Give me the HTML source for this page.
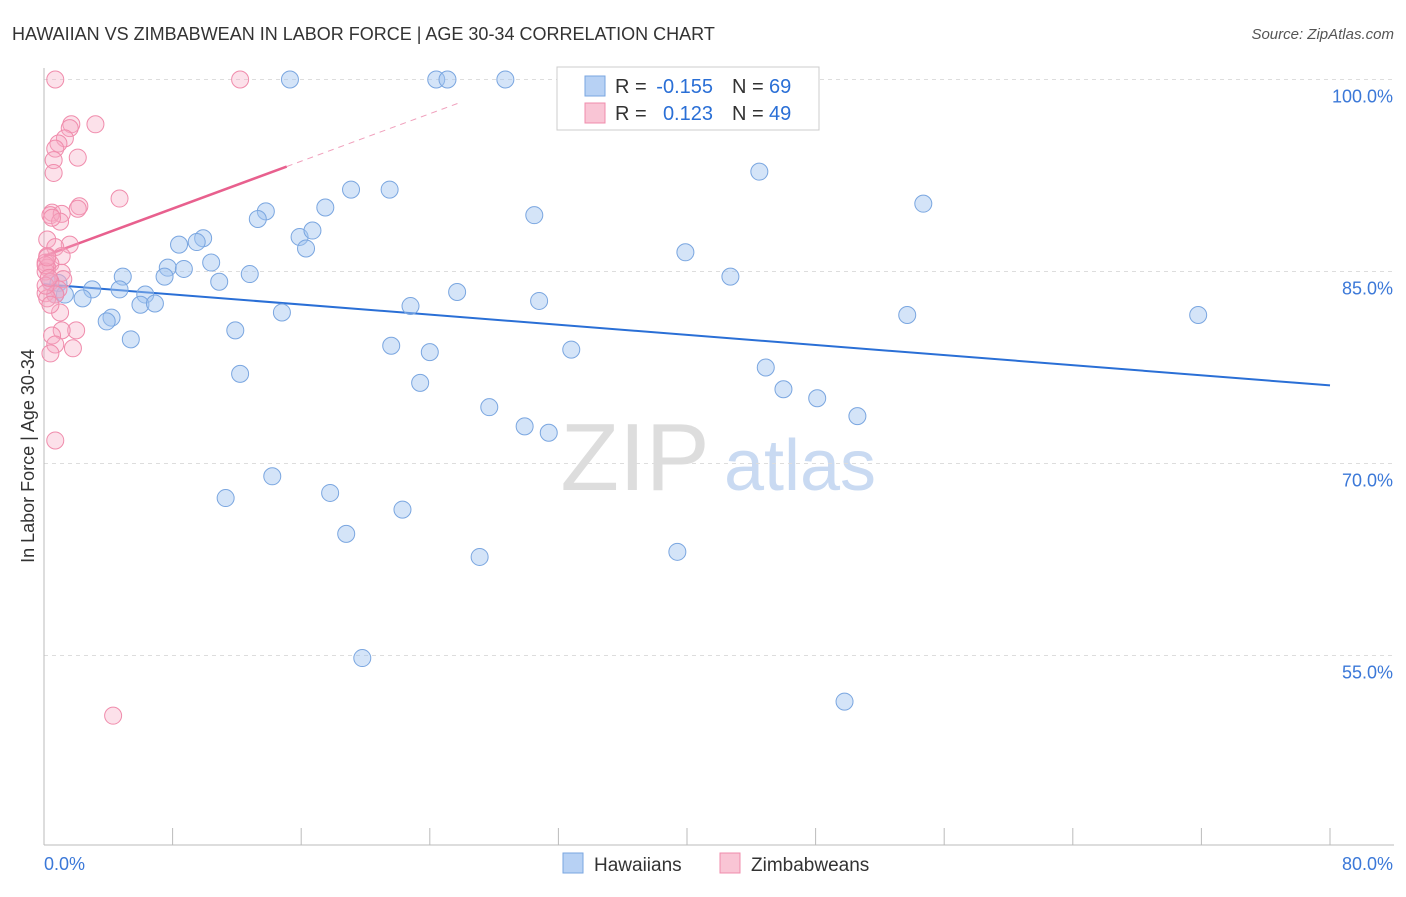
<!DOCTYPE html>
<html><head><meta charset="utf-8"><style>
body{margin:0;background:#fff;font-family:"Liberation Sans",sans-serif;}
svg text{font-family:"Liberation Sans",sans-serif;}
</style></head><body>
<svg id="chart" width="1406" height="892" xmlns="http://www.w3.org/2000/svg">
<text x="12" y="40" font-size="18" fill="#333">HAWAIIAN VS ZIMBABWEAN IN LABOR FORCE | AGE 30-34 CORRELATION CHART</text>
<text x="1394" y="39" font-size="15" fill="#555" text-anchor="end" font-style="italic">Source: ZipAtlas.com</text>
<text x="34" y="456" font-size="18" fill="#333" text-anchor="middle" transform="rotate(-90 34 456)">In Labor Force | Age 30-34</text>
<g><text x="635" y="490" font-size="96" fill="#ddd" text-anchor="middle" font-family="Liberation Serif">ZIP</text><text x="800" y="490" font-size="72" fill="#c9daf2" text-anchor="middle">atlas</text></g>
<g id="grid"></g><g id="axes"></g><g id="lines"></g><g id="pts"></g>
<g>
<rect x="557" y="67" width="262" height="63" fill="#fff" stroke="#ccc"/>
<rect x="585" y="76" width="20" height="20" fill="#b7d1f4" stroke="#7aa6e0"/>
<rect x="585" y="103" width="20" height="20" fill="#f9c5d5" stroke="#f08cac"/>
<text x="615" y="93" font-size="20" fill="#333">R =</text>
<text x="713" y="93" font-size="20" fill="#2a6fd6" text-anchor="end">-0.155</text>
<text x="732" y="93" font-size="20" fill="#333">N =</text>
<text x="769" y="93" font-size="20" fill="#2a6fd6">69</text>
<text x="615" y="120" font-size="20" fill="#333">R =</text>
<text x="713" y="120" font-size="20" fill="#2a6fd6" text-anchor="end">0.123</text>
<text x="732" y="120" font-size="20" fill="#333">N =</text>
<text x="769" y="120" font-size="20" fill="#2a6fd6">49</text>
</g>
<g>
<rect x="563" y="853" width="20" height="20" fill="#b7d1f4" stroke="#7aa6e0"/>
<text x="594" y="871" font-size="19" fill="#333">Hawaiians</text>
<rect x="720" y="853" width="20" height="20" fill="#f9c5d5" stroke="#f08cac"/>
<text x="751" y="871" font-size="19" fill="#333">Zimbabweans</text>
</g>
</svg>
<script>
const yTicks=[100,85,70,55];
const yTickLabels=["100.0%","85.0%","70.0%","55.0%"];
const xTickVals=[0,8,16,24,32,40,48,56,64,72,80];
const blueX=[15.3,24.4,25.1,28.7,33.3,44.5,54.7,19.1,21.5,13.8,13.3,17.5,30.5,9.9,9.5,8.4,15.9,16.7,16.3,39.9,10.4,7.7,8.7,7.5,4.9,12.8,10.9,42.7,0.4,0.9,3.0,4.7,1.3,0.7,2.4,6.3,6.0,6.9,25.7,30.8,22.8,14.8,4.2,3.9,53.7,71.8,11.9,5.4,21.6,24.0,32.8,12.2,44.9,23.4,46.0,48.1,50.6,27.7,29.9,31.4,14.2,17.8,11.3,22.3,18.8,27.1,39.4,19.8,49.8];
const blueY=[100,100,100,100,100,92.8,90.3,91.4,91.4,89.7,89.1,90.0,89.4,87.6,87.3,87.1,87.7,88.2,86.8,86.5,85.7,85.3,85.2,84.6,84.6,84.8,84.2,84.6,84.2,84.1,83.6,83.6,83.2,83.2,82.9,83.2,82.4,82.5,83.4,82.7,82.3,81.8,81.4,81.1,81.6,81.6,80.4,79.7,79.2,78.7,78.9,77.0,77.5,76.3,75.8,75.1,73.7,74.4,72.9,72.4,69.0,67.7,67.3,66.4,64.5,62.7,63.1,54.8,51.4];
const pinkX=[0.7,12.2,3.2,1.7,1.6,1.3,0.9,0.7,2.1,0.6,0.6,4.7,2.2,2.1,0.5,0.4,1.1,1.0,0.2,1.6,0.7,0.2,1.1,0.1,0.4,0.2,0.1,1.1,1.2,0.4,0.9,0.1,0.7,1.0,2.0,1.1,0.5,0.7,1.8,0.4,0.7,4.3,0.1,0.2,0.5,0.2,0.1,0.3,0.4];
const pinkY=[100,100,96.5,96.5,96.2,95.4,95.0,94.6,93.9,93.7,92.7,90.7,90.1,89.9,89.6,89.4,89.5,88.9,87.5,87.1,86.9,86.2,86.2,85.7,85.6,85.3,85.0,84.9,84.4,84.2,83.6,83.3,83.2,81.8,80.4,80.4,80.0,79.3,79.0,78.6,71.8,50.3,85.5,86.1,89.2,82.9,83.9,84.5,82.4];
const blueTrend=[84.0,76.1];
const pinkTrend=[86.2,93.2];
const NS="http://www.w3.org/2000/svg";
const X=v=>44+v*16.075, Y=v=>79.5+(100-v)*12.8;
function mk(p,t,a){const e=document.createElementNS(NS,t);for(const k in a)e.setAttribute(k,a[k]);document.getElementById(p).appendChild(e);return e;}
yTicks.forEach((v,i)=>{
 let l=mk('grid','line',{x1:44,x2:1394,y1:Y(v),y2:Y(v),stroke:'#ddd','stroke-dasharray':'4 4'});
 
 
 let t=mk('grid','text',{x:1393,y:Y(v)+23,'font-size':18,fill:'#3b78d8','text-anchor':'end'});t.textContent=yTickLabels[i];
 
 
});
let ax=mk('axes','line',{x1:44,x2:1394,y1:845,y2:845,stroke:'#bbb'});


let ay=mk('axes','line',{x1:44,x2:44,y1:68,y2:845,stroke:'#bbb'});


xTickVals.forEach(v=>{let t=mk('axes','line',{x1:X(v),x2:X(v),y1:828,y2:845,stroke:'#bbb'});
 
 });
let t0=mk('axes','text',{x:44,y:870,'font-size':18,fill:'#3b78d8'});t0.textContent='0.0%';


let t1=mk('axes','text',{x:1393,y:870,'font-size':18,fill:'#3b78d8','text-anchor':'end'});t1.textContent='80.0%';


blueX.forEach((x,i)=>{let c=mk('pts','circle',{cx:X(x),cy:Y(blueY[i]),r:8.5,fill:'rgba(160,195,240,0.45)',stroke:'#7aa6e0','stroke-width':1});
 
 });
pinkX.forEach((x,i)=>{let c=mk('pts','circle',{cx:X(x),cy:Y(pinkY[i]),r:8.5,fill:'rgba(245,170,195,0.35)',stroke:'#f08cac','stroke-width':1});
 
 });
let bl=mk('lines','line',{x1:X(0),y1:Y(blueTrend[0]),x2:X(80),y2:Y(blueTrend[1]),stroke:'#2a6fd6','stroke-width':2});


const slope=(pinkTrend[1]-pinkTrend[0])/15.1;
let pl=mk('lines','line',{x1:X(0),y1:Y(pinkTrend[0]),x2:X(15.1),y2:Y(pinkTrend[1]),stroke:'#e8608e','stroke-width':2.5});


const xe=26;
let pd=mk('lines','line',{x1:X(15.1),y1:Y(pinkTrend[1]),x2:X(xe),y2:Y(pinkTrend[0]+slope*xe),stroke:'#f0a0bc','stroke-width':1,'stroke-dasharray':'6 5'});


</script>
</body></html>
